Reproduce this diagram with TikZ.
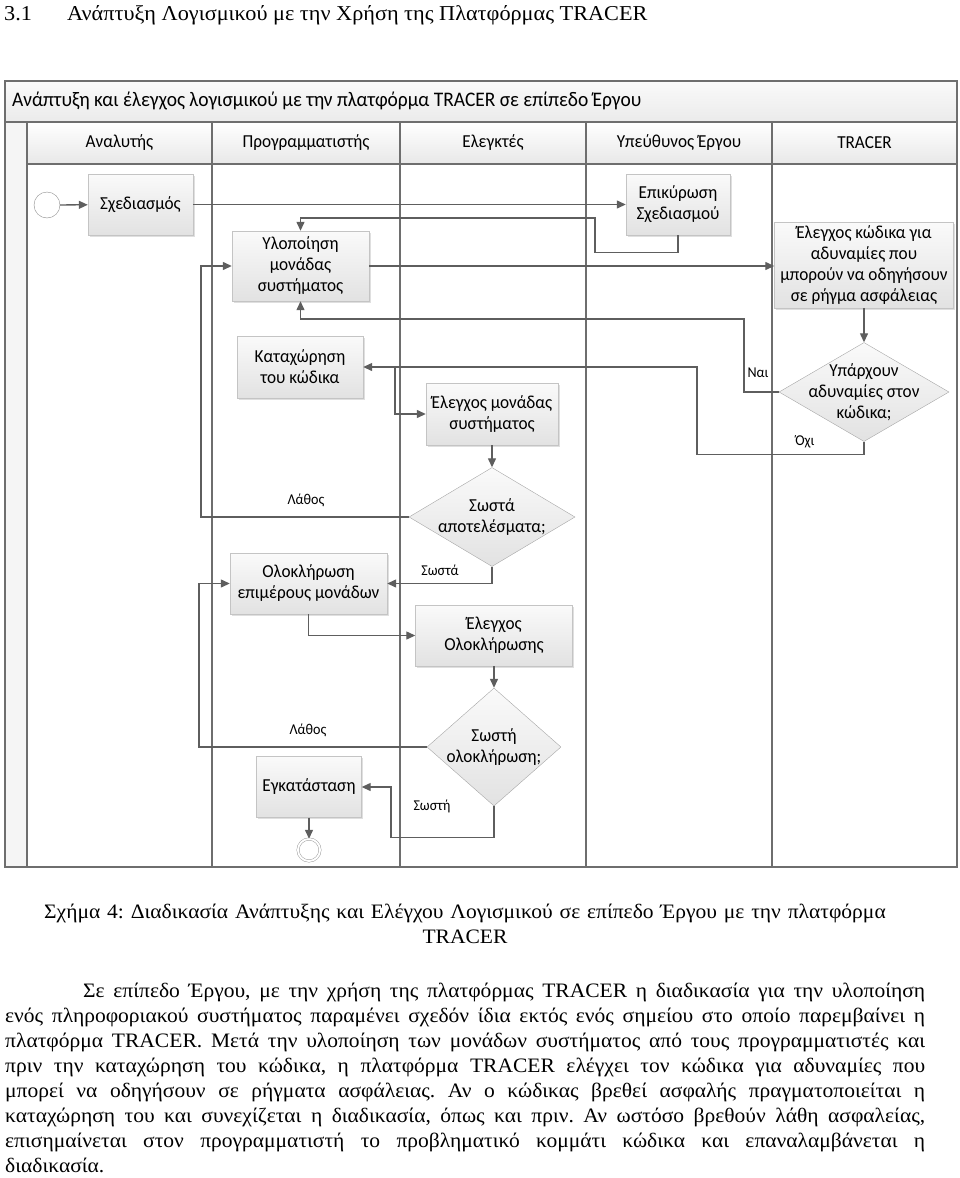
\documentclass[tikz,border=0pt]{standalone}
\usepackage{fontspec}
\setmainfont{Carlito}[FakeStretch=0.94]
\newfontfamily\paperfont{Liberation Serif}[FakeStretch=1.05]
\usetikzlibrary{shapes, arrows.meta, positioning, shadows}
\definecolor{lineg}{HTML}{5E5E5E}
\definecolor{poolg}{HTML}{6E6E6E}
\definecolor{boxb}{HTML}{C4C4C4}
\definecolor{boxf}{HTML}{E2E2E2}
\definecolor{condb}{HTML}{A6A6A6}
\frenchspacing

\begin{document}
\begin{tikzpicture}
		[
	x=1pt, y=-1pt,
	elem/.style={draw=boxb,rectangle,align=center,inner sep=0pt,top color=black!2,bottom color=boxf,
		drop shadow={shadow xshift=1.5pt,shadow yshift=-1.5pt,fill=black!25,opacity=0.5},
		font=\fontsize{18.3}{21}\selectfont},
	cond/.style={draw=condb,diamond,inner sep=0pt,top color=black!2,bottom color=boxf},
	condtxt/.style={align=center,inner sep=0pt,font=\fontsize{18.3}{21}\selectfont},
	lbl/.style={inner sep=0pt,font=\fontsize{15}{18}\selectfont},
	evt/.style={draw=black!45,circle,fill=white,minimum size=26pt,inner sep=0pt},
	lane/.style={draw=poolg,line width=1.3pt},
	flow/.style={draw=lineg,line width=1.3pt,-{Triangle[length=9pt,width=8pt]}}
	]
		\useasboundingbox (0,0) rectangle (960,1178);

		% heading of the section
		\node (sec) [anchor=base west,inner sep=0pt,font=\paperfont\fontsize{21.2}{26}\selectfont] at (4,20) {3.1};
		\node (sectitle) [anchor=base west,inner sep=0pt,font=\paperfont\fontsize{21.2}{26}\selectfont] at (67,20) {Ανάπτυξη Λογισμικού με την Χρήση της Πλατφόρμας TRACER};

		% pool and lanes
		\draw [lane,top color=black!2,bottom color=black!8] (5,81) rectangle (957,122);
		\draw [lane,top color=white,bottom color=black!9] (27,122) rectangle (957,164);
		\draw [lane,fill=black!4] (5,122) rectangle (27,867);
		\draw [lane] (5,81) rectangle (957,867);
		\foreach \x in {212,400,586,772}
			\draw [lane] (\x,122) -- (\x,867);
		\node (pool) [anchor=west,inner sep=0pt,font=\fontsize{20.7}{24}\selectfont] at (12,101) {Ανάπτυξη και έλεγχος λογισμικού με την πλατφόρμα TRACER σε επίπεδο Έργου};
		\foreach \x/\t [count=\i] in {119.5/Αναλυτής, 306/Προγραμματιστής, 493/Ελεγκτές, 679/Υπεύθυνος Έργου, 864.5/TRACER}
			\node (hd\i) [font=\fontsize{18.3}{21}\selectfont] at (\x,143) {\t};

		% activities
		\node (start) [evt] at (47,205) {};
		\node (sxe) [elem,minimum width=105pt,minimum height=61pt] at (140.5,204.5) {Σχεδιασμός};
		\node (epi) [elem,minimum width=104pt,minimum height=61pt] at (678,204.5) {Επικύρωση\\Σχεδιασμού};
		\node (ylo) [elem,minimum width=137pt,minimum height=70pt] at (300.5,266) {Υλοποίηση\\μονάδας\\συστήματος};
		\node (trc) [elem,minimum width=179pt,minimum height=86pt] at (864,265) {Έλεγχος κώδικα για\\αδυναμίες που\\μπορούν να οδηγήσουν\\σε ρήγμα ασφάλειας};
		\node (vul) [cond,minimum width=170pt,minimum height=99pt] at (864,392) {};
		\node (vult) [condtxt] at (vul.center) {Υπάρχουν\\αδυναμίες στον\\κώδικα;};
		\node (kat) [elem,minimum width=126pt,minimum height=62pt] at (300,367) {Καταχώρηση\\του κώδικα};
		\node (elm) [elem,minimum width=132pt,minimum height=62pt] at (492,414) {Έλεγχος μονάδας\\συστήματος};
		\node (res) [cond,minimum width=166pt,minimum height=99pt] at (492,517) {};
		\node (rest) [condtxt] at (res.center) {Σωστά\\αποτελέσματα;};
		\node (olo) [elem,minimum width=157pt,minimum height=61pt] at (308.5,583.5) {Ολοκλήρωση\\επιμέρους μονάδων};
		\node (elo) [elem,minimum width=157pt,minimum height=61pt] at (494,635.5) {Έλεγχος\\Ολοκλήρωσης};
		\node (com) [cond,minimum width=134pt,minimum height=118pt] at (494,747) {};
		\node (comt) [condtxt] at (com.center) {Σωστή\\ολοκλήρωση;};
		\node (ins) [elem,minimum width=105pt,minimum height=61pt] at (309,787) {Εγκατάσταση};
		\node (fin) [evt,double,double distance=2pt,minimum size=22pt] at (309,850) {};

		% flows
		\draw [flow] (start) -- (sxe);
		\draw [flow] (sxe) -- (epi);
		\draw [flow] (epi.south) -- ++(0,17) -| (595,218) -| (ylo.north);
		\draw [flow] (ylo.east) -- (ylo.east -| trc.west);
		\draw [flow] (trc) -- (vul);
		\draw [flow] (vul.west) -| (744,319) -| (ylo.south);
		\draw [flow] (vul.south) -- ++(0,13) -| (697,367) -- (kat.east);
		\coordinate (katj) at (395,367);
		\draw [flow] (katj) |- (elm.west);
		\draw [flow] (elm) -- (res);
		\draw [flow] (res.west) -- (201,517) |- (ylo.west);
		\draw [flow] (res.south) |- (olo.east);
		\draw [flow] (olo.south) |- (elo.west);
		\draw [flow] (elo) -- (com);
		\draw [flow] (com.west) -- (199,747) |- (olo.west);
		\draw [flow] (com.south) -- ++(0,31) -| (391,787) -- (ins.east);
		\draw [flow] (ins) -- (fin);

		% branch labels
		\node (yes) [lbl] at (758,373) {Ναι};
		\node (no) [lbl] at (805,442) {Όχι};
		\node (err1) [lbl] at (306,500) {Λάθος};
		\node (ok1) [lbl] at (440,570) {Σωστά};
		\node (err2) [lbl] at (308,730) {Λάθος};
		\node (ok2) [lbl] at (432,806) {Σωστή};

		% caption and text
		\node (cap) [anchor=north,align=center,text width=920pt,inner sep=0pt,font=\paperfont\fontsize{20.5}{25}\selectfont] at (465,904) {Σχήμα 4: Διαδικασία Ανάπτυξης και Ελέγχου Λογισμικού σε επίπεδο Έργου με την πλατφόρμα\\TRACER};
		\node (para) [anchor=north west,align=justify,text width=920pt,inner sep=0pt,font=\paperfont\fontsize{20.5}{25}\selectfont] at (5,983) {\hyphenpenalty=10000\hspace*{78pt}Σε επίπεδο Έργου, με την χρήση της πλατφόρμας TRACER η διαδικασία για την υλοποίηση\linebreak
			ενός πληροφοριακού συστήματος παραμένει σχεδόν ίδια εκτός ενός σημείου στο οποίο παρεμβαίνει η\linebreak
			πλατφόρμα TRACER. Μετά την υλοποίηση των μονάδων συστήματος από τους προγραμματιστές και\linebreak
			πριν την καταχώρηση του κώδικα, η πλατφόρμα TRACER ελέγχει τον κώδικα για αδυναμίες που\linebreak
			μπορεί να οδηγήσουν σε ρήγματα ασφάλειας. Αν ο κώδικας βρεθεί ασφαλής πραγματοποιείται η\linebreak
			καταχώρηση του και συνεχίζεται η διαδικασία, όπως και πριν. Αν ωστόσο βρεθούν λάθη ασφαλείας,\linebreak
			επισημαίνεται στον προγραμματιστή το προβληματικό κομμάτι κώδικα και επαναλαμβάνεται η\linebreak
			διαδικασία.};
	\end{tikzpicture}
\end{document}
